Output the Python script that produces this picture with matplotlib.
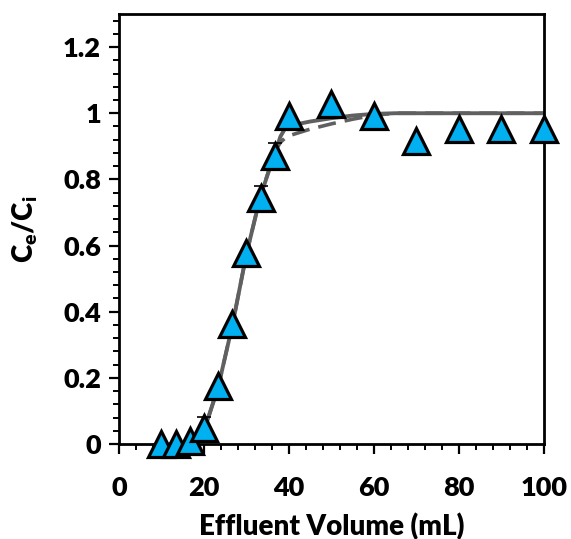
import numpy as np
import matplotlib
matplotlib.use("Agg")
import matplotlib.pyplot as plt
from matplotlib.ticker import MultipleLocator

# measured data (effluent volume, C/Ci)
vol = [10, 13.3, 16.7, 20, 23.3, 26.7, 30, 33.3, 36.7, 40, 50, 60, 70, 80, 90, 100]
ratio = [0.0, 0.0, 0.01, 0.047, 0.175, 0.364, 0.576, 0.743, 0.87, 0.991,
         1.029, 0.991, 0.916, 0.953, 0.953, 0.953]
err = [0, 0, 0, 0.035, 0, 0, 0, 0.037, 0.04, 0, 0, 0, 0, 0, 0, 0]

# model curves
fit_x = [12, 15, 18, 20, 23.3, 26.7, 30, 33.3, 36.7, 38, 39, 40, 45, 50, 55, 60, 65, 100]
fit1_y = [0.0, 0.0, 0.012, 0.04, 0.17, 0.36, 0.575, 0.75, 0.88, 0.93, 0.952, 0.962,
          0.975, 0.985, 0.993, 0.998, 1.0, 1.0]
fit2_y = [0.0, 0.0, 0.012, 0.04, 0.17, 0.36, 0.575, 0.75, 0.885, 0.912, 0.924, 0.932,
          0.952, 0.968, 0.982, 0.994, 1.0, 1.0]

plt.rcParams['font.family'] = ['Lato', 'DejaVu Sans']
plt.rcParams['font.weight'] = 'heavy'
plt.rcParams['mathtext.fontset'] = 'custom'
plt.rcParams['mathtext.rm'] = 'Lato:heavy'
plt.rcParams['mathtext.it'] = 'Lato:heavy'
plt.rcParams['mathtext.bf'] = 'Lato:heavy'

fig = plt.figure(figsize=(5.71, 5.39), dpi=100)
ax = fig.add_axes([0.2084, 0.1763, 0.7443, 0.7977])

ax.plot(fit_x, fit1_y, color='#606060', lw=2.8, solid_capstyle='round', zorder=2)
ax.plot(fit_x, fit2_y, color='#606060', lw=2.6, ls=(0, (5, 2.5)), zorder=2)

ax.errorbar(vol, ratio, yerr=err, fmt='none', ecolor='black', elinewidth=1.2,
            capsize=5, capthick=1.2, zorder=3)
ax.plot(vol, ratio, ls='none', marker='^', markersize=19, markerfacecolor='#00B0F0',
        markeredgecolor='black', markeredgewidth=2.3, clip_on=False, zorder=4)

ax.set_xlim(0, 100)
ax.set_ylim(0, 1.3)
ax.xaxis.set_major_locator(MultipleLocator(20))
ax.xaxis.set_minor_locator(MultipleLocator(4))
ax.yaxis.set_minor_locator(MultipleLocator(0.04))
ax.set_yticks([0, 0.2, 0.4, 0.6, 0.8, 1.0, 1.2])
ax.set_yticklabels(['0', '0.2', '0.4', '0.6', '0.8', '1', '1.2'])

for s in ax.spines.values():
    s.set_linewidth(2)
ax.tick_params(which='major', direction='out', length=7, width=1.6, labelsize=19.5, pad=6)
ax.tick_params(which='minor', direction='out', length=4.5, width=1.4)
ax.tick_params(axis='x', pad=16)

ax.set_xlabel('Effluent Volume (mL)', fontsize=20, fontweight='heavy', labelpad=9)
ax.set_ylabel(r'$\mathbf{C_e/C_i}$', fontsize=20)
ax.yaxis.set_label_coords(-0.186, 0.5)

fig.savefig('out.png', dpi=100)
